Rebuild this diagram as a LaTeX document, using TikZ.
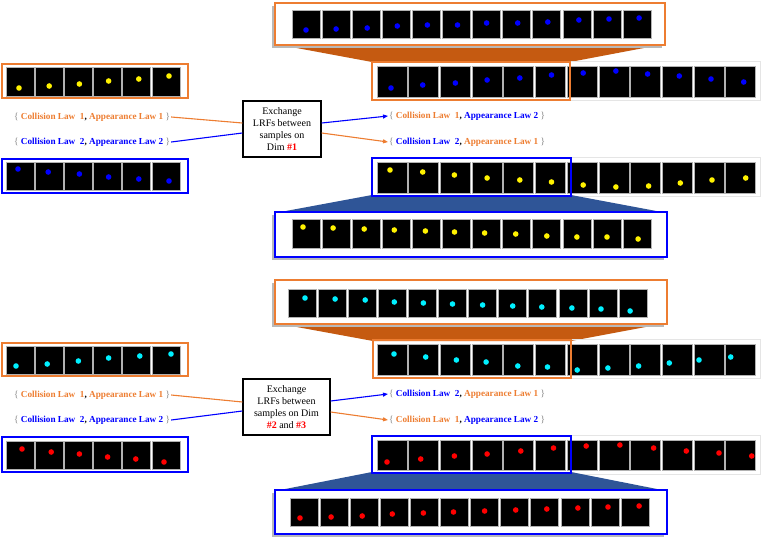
\documentclass[tikz,border=0pt]{standalone}
\usepackage{fontspec}
\setmainfont{Liberation Serif}
\usetikzlibrary{arrows.meta,calc}
\definecolor{lorange}{RGB}{237,125,49}
\definecolor{dorange}{RGB}{197,90,17}
\definecolor{lblue}{RGB}{0,0,255}
\definecolor{dblue}{RGB}{47,85,151}
\definecolor{bcyan}{RGB}{0,240,255}
\tikzset{
  frameimg/.style={fill=black, draw=gray!60, line width=0.8pt},
  ballr/.style={},
  zoomframe/.style={fill=white, line width=2pt},
  selbox/.style={line width=2pt},
  lawlabel/.style={anchor=west, inner sep=1pt, font=\fontsize{9.2}{11}\selectfont\bfseries},
  exbox/.style={draw=black, line width=1.3pt, fill=white, align=center, inner sep=0pt,
                minimum height=56pt, font=\fontsize{10}{12}\selectfont},
  conn/.style={line width=1.1pt},
  arr/.style={line width=1.1pt, -{Triangle[length=5pt,width=4pt]}},
}
\newcommand{\filmseq}[7]{%
  \foreach \bx/\by [count=\ii from 0] in {#7}{%
    \filldraw[frameimg] ({#1+\ii*#3},#2) rectangle ++(#4,#5);
    \fill[#6] ({#1+\ii*#3+\bx},{#2+\by}) circle (2.8pt);
  }}
\newcommand{\gbr}[1]{{\mdseries\color{gray}#1}}
\newcommand{\lawline}[4]{\gbr{\{} \textcolor{#1}{Collision Law\ \ #2}, \textcolor{#3}{Appearance Law #4} \gbr{\}}}
\begin{document}
\begin{tikzpicture}[x=1pt,y=-1pt]
\useasboundingbox (0,0) rectangle (761,541);

% ================= SECTION 1 =================
% trapezoid top
\fill[dorange] (275,44) -- (665,44) -- (570,62) -- (372,62) -- cycle;
\fill[gray!55] (272,6) rectangle (662,48);
\filldraw[zoomframe, draw=lorange] (275,3) rectangle (665,45);
\filmseq{292}{10}{30.1}{28}{28}{lblue}{14/20,14/19,15/18,15/16,15/15,15/15,14/13,15/13,15/12,16/10,16/9,16/8}
% main strip 1
\draw[gray!20] (372,61) rectangle (760,100);
\filmseq{377}{66}{31.7}{30}{31}{lblue}{14/22,14/19,15/17,15/14,16/12,16/9,16/7,17/5,17/8,17/10,17/13,18/16}
\draw[selbox, lorange] (372,62) rectangle (570,100);
% left strips
\draw[selbox, lorange, line width=2.4pt] (2,64) rectangle (188,98);
\filmseq{6}{67}{29.2}{28}{29}{yellow}{13/21,14/19,15/17,15/14,16/12,17/9}
\draw[selbox, lblue, line width=2.4pt] (2,159) rectangle (188,193);
\filmseq{6}{162}{29.2}{28}{28}{lblue}{12/7,13/10,15/12,15/15,16/17,17/19}
% main strip 2
\draw[gray!20] (372,157) rectangle (760,196);
\fill[dblue] (372,195) -- (571,195) -- (667,213) -- (275,213) -- cycle;
\filmseq{377}{162}{31.7}{30}{31}{yellow}{13/8,14/10,14/13,15/16,16/18,16/20,16/23,17/25,18/24,18/21,18/18,20/16}
\draw[selbox, lblue] (372,158) rectangle (571,196);
\fill[gray!55] (272,215) rectangle (664,260);
\filldraw[zoomframe, draw=lblue] (275,212) rectangle (667,257);
\filmseq{292}{219}{30.1}{28}{29}{yellow}{11/8,11/9,12/10,12/11,13/12,12/13,12/14,13/15,14/17,14/18,14/18,15/20}

% labels and exchange box 1
\node[lawlabel] (t1a) at (13,117) {\lawline{lorange}{1}{lorange}{1}};
\node[lawlabel] (t1b) at (13,142) {\lawline{lblue}{2}{lblue}{2}};
\node[exbox, minimum width=78pt] (ex1) at (282,129) {Exchange\\LRFs between\\samples on\\Dim \textcolor{red}{\textbf{\#1}}};
\node[lawlabel] (r1a) at (388,116) {\lawline{lorange}{1}{lblue}{2}};
\node[lawlabel] (r1b) at (388,142) {\lawline{lblue}{2}{lorange}{1}};
\draw[conn, lorange] (t1a.east) -- ($(ex1.west)+(0,-6)$);
\draw[conn, lblue] (t1b.east) -- ($(ex1.west)+(0,4)$);
\draw[arr, lblue] ($(ex1.east)+(0,-6)$) -- (r1a.west);
\draw[arr, lorange] ($(ex1.east)+(0,4)$) -- (r1b.west);

% ================= SECTION 2 =================
\fill[dorange] (275,323) -- (667,323) -- (571,341) -- (373,341) -- cycle;
\fill[gray!55] (272,283) rectangle (664,327);
\filldraw[zoomframe, draw=lorange] (275,280) rectangle (667,324);
\filmseq{288}{289}{30.1}{28}{28}{bcyan}{17/9,17/10,17/11,16/13,15/14,14/15,14/16,14/17,13/18,13/19,12/20,11/22}
% main strip 3
\draw[gray!20] (372,339) rectangle (760,378);
\filmseq{377}{344}{31.7}{30}{31}{bcyan}{17/10,17/13,16/16,14/18,14/22,12/23,10/26,9/24,8/22,7/19,5/16,5/13}
\draw[selbox, lorange] (373,340) rectangle (571,378);
% left strips
\draw[selbox, lorange, line width=2.4pt] (2,343) rectangle (188,376);
\filmseq{6}{346}{29.2}{28}{28}{bcyan}{10/20,12/18,14/15,15/12,17/10,19/8}
\draw[selbox, lblue, line width=2.4pt] (2,437) rectangle (188,472);
\filmseq{6}{441}{29.2}{28}{28}{red}{16/8,16/11,15/13,14/16,13/18,12/21}
% main strip 4
\draw[gray!20] (372,435) rectangle (760,474);
\fill[dblue] (372,472) -- (571,472) -- (667,491) -- (275,491) -- cycle;
\filmseq{377}{440}{31.7}{30}{30}{red}{10/22,12/19,14/16,15/14,17/11,18/8,19/6,21/5,23/8,24/11,25/13,26/16}
\draw[selbox, lblue] (372,436) rectangle (571,473);
\fill[gray!55] (272,493) rectangle (664,537);
\filldraw[zoomframe, draw=lblue] (275,490) rectangle (667,534);
\filmseq{290}{498}{30.1}{28}{28}{red}{10/20,11/19,12/18,12/16,13/15,13/14,14/13,15/12,16/11,17/10,17/9,18/8}

% labels and exchange box 2
\node[lawlabel] (t2a) at (13,395) {\lawline{lorange}{1}{lorange}{1}};
\node[lawlabel] (t2b) at (13,420) {\lawline{lblue}{2}{lblue}{2}};
\node[exbox, minimum width=87pt] (ex2) at (286.5,407) {Exchange\\LRFs between\\samples on Dim\\\textcolor{red}{\textbf{\#2}} and \textcolor{red}{\textbf{\#3}}};
\node[lawlabel] (r2a) at (388,394) {\lawline{lblue}{2}{lorange}{1}};
\node[lawlabel] (r2b) at (388,420) {\lawline{lorange}{1}{lblue}{2}};
\draw[conn, lorange] (t2a.east) -- ($(ex2.west)+(0,-5)$);
\draw[conn, lblue] (t2b.east) -- ($(ex2.west)+(0,4)$);
\draw[arr, lblue] ($(ex2.east)+(0,-6)$) -- (r2a.west);
\draw[arr, lorange] ($(ex2.east)+(0,5)$) -- (r2b.west);
\end{tikzpicture}
\end{document}
